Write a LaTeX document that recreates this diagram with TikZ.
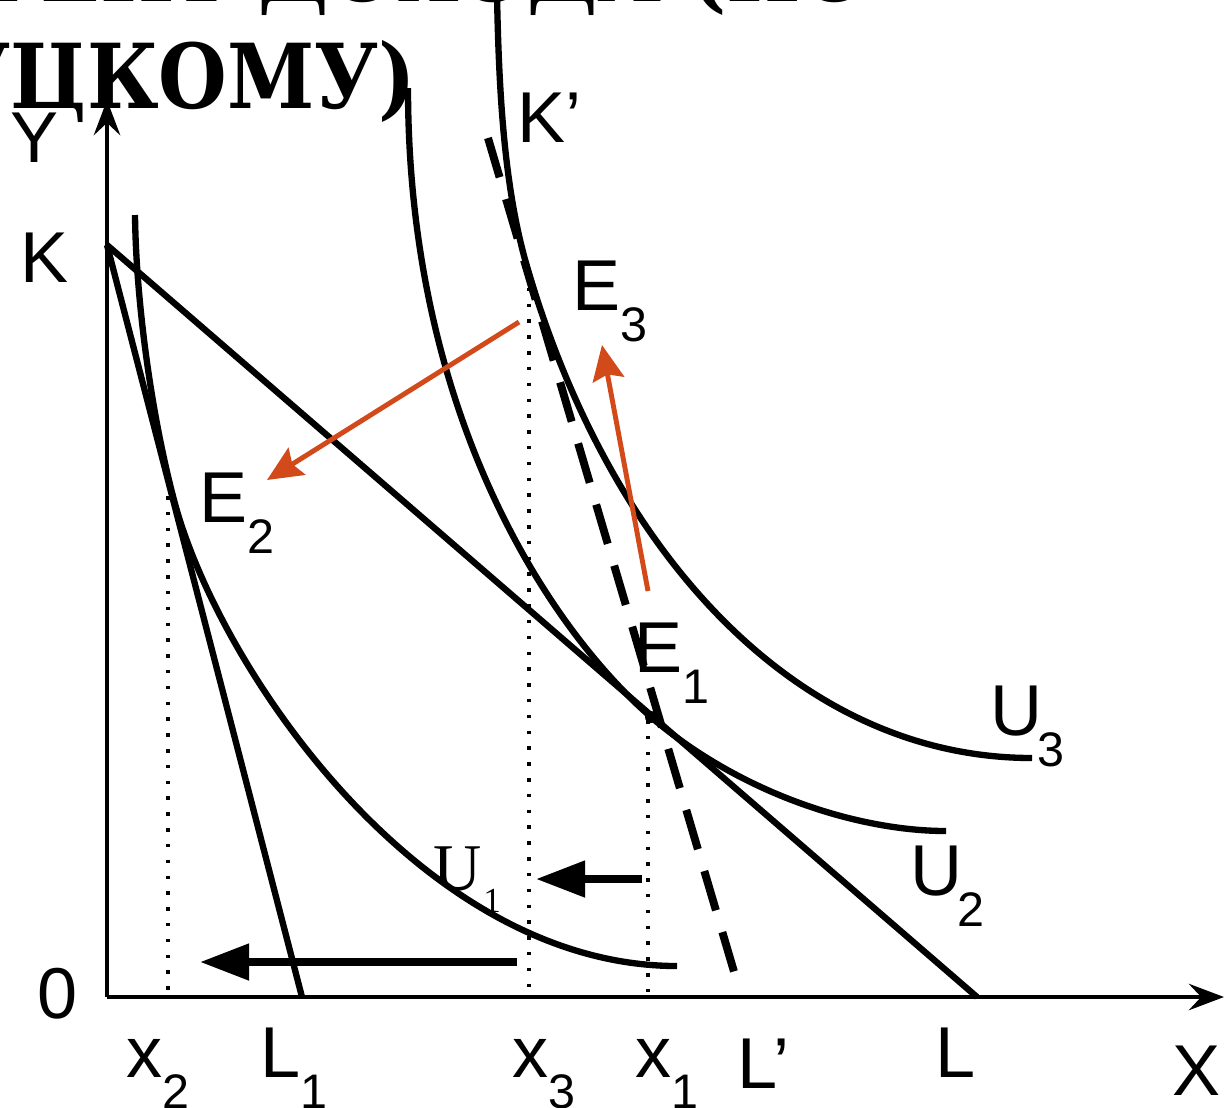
\documentclass[tikz,border=0pt]{standalone}
\usepackage{fontspec}
\setmainfont{Liberation Sans}
\newfontfamily\titlefont{DejaVu Serif}
\newfontfamily\serifU{Liberation Serif}
\usetikzlibrary{arrows.meta}
\newcommand\sublab[3][0pt]{#2\kern#1\lower18pt\hbox{\fontsize{27.6}{28}\selectfont #3}}
\definecolor{orangeC}{RGB}{210,74,26}
\tikzset{
  axisline/.style={line width=2.55pt,-{Stealth[length=20pt,width=15pt,inset=7pt]}},
  curveline/.style={line width=3.6pt},
  budget/.style={line width=3.6pt},
  dashline/.style={line width=4.5pt,dash pattern=on 23.3pt off 12.95pt},
  dotline/.style={line width=2pt,dash pattern=on 2pt off 7pt},
  orangearrow/.style={line width=2.8pt,draw=orangeC,fill=orangeC,-{Stealth[length=20pt,width=18pt,inset=3pt]}},
  blackarrow/.style={line width=4.5pt,-{Triangle[length=28pt,width=20pt]}},
  lab/.style={inner sep=0pt,anchor=base west,font=\fontsize{41}{41}\selectfont},
  titletext/.style={inner sep=0pt,anchor=base west,font=\titlefont\bfseries\fontsize{51}{51}\selectfont},
}
\begin{document}
\begin{tikzpicture}[x=0.02cm,y=-0.02cm]
\useasboundingbox (0,0) rectangle (1226,1107);
\begin{scope}
\clip (0,0) rectangle (1226,1107);
% title (cut off by the picture's edge)
\node[titletext] (title1) at (-172,1) {\scalebox{0.88}[1]{ЭФФЕКТ ДОХОДА (ПО}};
\node[titletext] (title2) at (-186,108) {\scalebox{0.88}[1]{СЛУЦКОМУ)}};

% key points
\coordinate (O) at (107,997);
\coordinate (Ytip) at (107,100);
\coordinate (Xtip) at (1224,997);
\coordinate (K) at (107,245);
\coordinate (L) at (977,997);
\coordinate (L1) at (302,997);
\coordinate (Kp) at (488,138);
\coordinate (Lp) at (735,975);
\coordinate (E1) at (651,717);
\coordinate (E2) at (174,500);
\coordinate (E3) at (528,270);
\coordinate (x2foot) at (168,997);
\coordinate (x2top) at (168,496);
\coordinate (x3foot) at (529,997);
\coordinate (x3top) at (529,272);
\coordinate (x1foot) at (648,997);
\coordinate (x1top) at (648,720);
\coordinate (U1a) at (135,215);
\coordinate (U1b) at (677,966);
\coordinate (U2a) at (408,88);
\coordinate (U2b) at (946,831);
\coordinate (U3a) at (497,-5);
\coordinate (U3b) at (1032,758);

% dotted verticals
\draw[dotline] (x2top) -- (x2foot);
\draw[dotline] (x3top) -- (x3foot);
\draw[dotline] (x1top) -- (x1foot);

% axes
\draw[axisline] (O) -- (Ytip);
\draw[axisline] (O) -- (Xtip);

% budget lines
\draw[budget] (K) -- (L);
\draw[budget] (K) -- (L1);
\draw[dashline] (Kp) -- (Lp);

% indifference curves
\draw[curveline] (U1a) .. controls (136,300) and (151,413) .. (E2)
                       .. controls (217,665) and (420,966) .. (U1b);
\draw[curveline] (U2a) .. controls (408,420) and (553,632) .. (E1)
                       .. controls (742,795) and (860,831) .. (U2b);
\draw[curveline] (U3a) .. controls (499,100) and (505,193) .. (E3)
                       .. controls (613,558) and (800,758) .. (U3b);

\fill (E1) circle (6);

% arrows
\coordinate (oa1s) at (519,322);
\coordinate (oa1e) at (267,480);
\coordinate (oa2s) at (648,591);
\coordinate (oa2e) at (602,345);
\draw[orangearrow] (oa1s) -- (oa1e);
\draw[orangearrow] (oa2s) -- (oa2e);
\coordinate (ba1s) at (517,962);
\coordinate (ba1e) at (200,962);
\coordinate (ba2s) at (642,879);
\coordinate (ba2e) at (536,879);
\draw[blackarrow] (ba1s) -- (ba1e);
\draw[blackarrow] (ba2s) -- (ba2e);

% labels
\node[lab] (labY) at (10,162) {Y};
\node[lab] (labK) at (20,282) {K};
\node[lab] (lab0) at (37,1018) {0};
\node[lab] (labKp) at (517,142) {K’};
\node[lab] (labE3) at (572,310) {\sublab{E}{3}};
\node[lab] (labE2) at (199,522) {\sublab{E}{2}};
\node[lab] (labE1) at (634,672) {\sublab{E}{1}};
\node[lab] (labU3) at (990,735) {\sublab[-3pt]{U}{3}};
\node[lab] (labU2) at (910,895) {\sublab[-3pt]{U}{2}};
\node[lab,font=\serifU\fontsize{38}{38}\selectfont] (labU1) at (433,890) {U\kern1pt\lower13pt\hbox{\fontsize{20}{20}\selectfont 1}};
\node[lab] (labx2) at (126,1077) {\sublab{x}{2}};
\node[lab] (labL1) at (260,1077) {\sublab{L}{1}};
\node[lab] (labx3) at (512,1077) {\sublab{x}{3}};
\node[lab] (labx1) at (635,1077) {\sublab{x}{1}};
\node[lab] (labLp) at (737,1088) {L’};
\node[lab] (labL) at (935,1077) {L};
\node[lab] (labX) at (1172,1095) {X};
\end{scope}
\end{tikzpicture}
\end{document}
